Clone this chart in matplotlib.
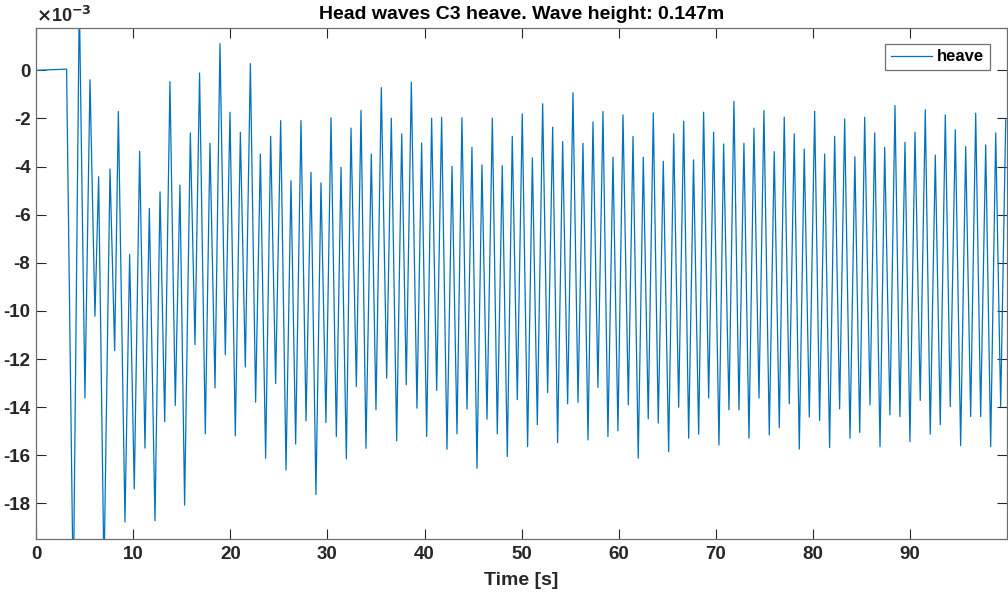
import matplotlib
matplotlib.use("Agg")
import matplotlib.pyplot as plt

plt.rcParams.update({
    "font.family": ["Liberation Sans", "DejaVu Sans"],
    "font.weight": "bold",
    "axes.labelweight": "bold",
    "axes.titleweight": "bold",
    "axes.unicode_minus": False,
})
BLUE = "#0072BD"
AXC = "#262626"

# heave (x 1e-3 m), read off the extrema of the trace
# initial flat part + transient (first two troughs / first peak are clipped in the original)
t_start = [0.0, 3.15, 3.84, 4.46, 5.04, 5.56, 6.07, 6.45, 7.00, 7.62, 8.10, 8.48,
           9.16, 9.64, 10.12, 10.67, 11.22, 11.67, 12.25, 12.77, 13.25, 13.79,
           14.34, 14.82, 15.30, 15.89, 16.37, 16.84]
h_start = [0.0, 0.05, -22.0, 3.0, -13.62, -0.39, -10.22, -4.42, -21.0, -4.10, -11.65, -1.71,
           -18.77, -7.65, -17.40, -3.36, -15.70, -5.74, -18.72, -5.05, -14.60, -0.47,
           -13.93, -4.77, -18.07, -2.60, -11.40, -0.11]

# remaining oscillation: trough, peak, trough, peak ...
t_osc = [17.43, 17.91, 18.43, 18.94, 19.49, 19.97, 20.52, 21.04, 21.55, 22.07,
         22.61, 23.10, 23.64, 24.16, 24.67, 25.19, 25.74, 26.25, 26.73, 27.28,
         27.80, 28.31, 28.82, 29.34, 29.85, 30.37, 30.92, 31.40, 31.95, 32.43,
         32.98, 33.46, 33.97, 34.52, 35.00, 35.55, 36.10, 36.58, 37.13, 37.65,
         38.12, 38.64, 39.22, 39.70, 40.22, 40.73, 41.25, 41.76, 42.31, 42.83,
         43.34, 43.85, 44.37, 44.88, 45.40, 45.91, 46.43, 46.98, 47.49, 48.00,
         48.52, 49.03, 49.55, 50.06, 50.61, 51.10, 51.61, 52.16, 52.67, 53.19,
         53.70, 54.22, 54.73, 55.28, 55.80, 56.31, 56.83, 57.34, 57.85, 58.37,
         58.88, 59.40, 59.91, 60.43, 60.98, 61.46, 62.00, 62.52, 63.03, 63.55,
         64.06, 64.58, 65.13, 65.65, 66.16, 66.68, 67.19, 67.69, 68.22, 68.73,
         69.25, 69.76, 70.31, 70.79, 71.34, 71.85, 72.37, 72.88, 73.40, 73.91,
         74.43, 74.94, 75.49, 76.00, 76.52, 77.03, 77.55, 78.06, 78.58, 79.09,
         79.61, 80.16, 80.67, 81.19, 81.70, 82.22, 82.73, 83.25, 83.80, 84.30,
         84.80, 85.31, 85.86, 86.34, 86.89, 87.37, 87.91, 88.43, 88.94, 89.46,
         89.97, 90.49, 91.03, 91.55, 92.06, 92.58, 93.09, 93.61, 94.12, 94.64,
         95.19, 95.71, 96.22, 96.74, 97.25, 97.77, 98.28, 98.80, 99.31, 99.83]
h_osc = [-15.11, -3.03, -13.20, 1.11, -11.82, -1.74, -15.19, -2.57, -12.33, 0.28,
         -13.79, -3.48, -16.12, -2.74, -13.02, -2.09, -16.61, -4.59, -15.53, -2.09,
         -14.57, -4.24, -17.63, -4.68, -14.64, -1.97, -15.22, -4.03, -16.15, -2.40,
         -13.14, -1.67, -15.71, -3.48, -14.11, -0.72, -12.79, -1.99, -15.40, -2.64,
         -13.07, -0.49, -14.04, -3.02, -15.22, -1.99, -13.30, -1.95, -15.75, -3.99,
         -15.11, -1.97, -14.08, -3.20, -16.54, -3.93, -14.50, -1.99, -15.11, -3.96,
         -16.05, -2.74, -13.69, -1.81, -15.64, -3.64, -14.73, -1.39, -13.39, -2.36,
         -15.47, -2.96, -13.86, -0.93, -13.80, -3.03, -15.36, -2.15, -13.18, -1.71,
         -15.22, -3.61, -14.98, -1.85, -13.90, -2.75, -16.12, -3.61, -14.48, -1.77,
         -14.66, -3.78, -15.85, -2.64, -14.00, -2.11, -15.29, -3.72, -15.12, -1.74,
         -13.62, -2.57, -15.57, -3.06, -14.11, -1.29, -14.11, -3.03, -15.29, -2.40,
         -13.62, -1.67, -15.15, -3.38, -14.85, -1.95, -13.86, -2.64, -15.74, -3.27,
         -14.41, -1.70, -14.55, -3.48, -15.68, -2.74, -14.07, -2.02, -15.29, -3.59,
         -15.05, -1.95, -13.90, -2.60, -15.64, -3.20, -14.32, -1.46, -14.39, -2.99,
         -15.43, -2.57, -13.72, -1.64, -15.12, -3.52, -14.73, -1.85, -13.97, -2.47,
         -15.60, -3.17, -14.39, -1.78, -14.39, -3.10, -15.64, -2.60, -13.97, -2.06]

t = t_start + t_osc
h = h_start + h_osc

fig = plt.figure(figsize=(10.08, 5.97), dpi=100)
ax = fig.add_axes([0.0357, 0.0975, 0.963, 0.856])
ax.plot(t, h, color=BLUE, lw=0.9, label="heave")

ax.set_xlim(0, 99.93)
ax.set_ylim(-19.47, 1.77)
ax.set_xticks(range(0, 100, 10))
ax.set_yticks(range(-18, 1, 2))
ax.tick_params(direction="in", length=7.5, width=0.8, colors=AXC, labelsize=13.5,
               top=True, right=True, pad=5)
ax.tick_params(axis="y", pad=4)
for lbl in ax.get_xticklabels() + ax.get_yticklabels():
    lbl.set_fontweight("bold")
    lbl.set_color(AXC)
for s in ax.spines.values():
    s.set_color("#6e6e6e")
    s.set_linewidth(0.9)

ax.set_title("Head waves C3 heave. Wave height: 0.147m", fontsize=14,
             fontweight="bold", color="black", pad=6)
ax.set_xlabel("Time [s]", fontsize=14, fontweight="bold", color=AXC, labelpad=6.5)
ax.text(0.0, 1.003, r"$\times$10$^{\mathbf{-3}}$", transform=ax.transAxes,
        fontsize=13, fontweight="bold", color=AXC, ha="left", va="bottom")

leg = ax.legend(loc="upper right", bbox_to_anchor=(0.983, 0.969), fontsize=12,
                fancybox=False, framealpha=1, edgecolor="#6e6e6e",
                handlelength=2.5, borderpad=0.35, handletextpad=0.3, borderaxespad=0)
leg.get_frame().set_linewidth(0.9)
for txt in leg.get_texts():
    txt.set_fontweight("bold")

fig.savefig("out.png", dpi=100)
